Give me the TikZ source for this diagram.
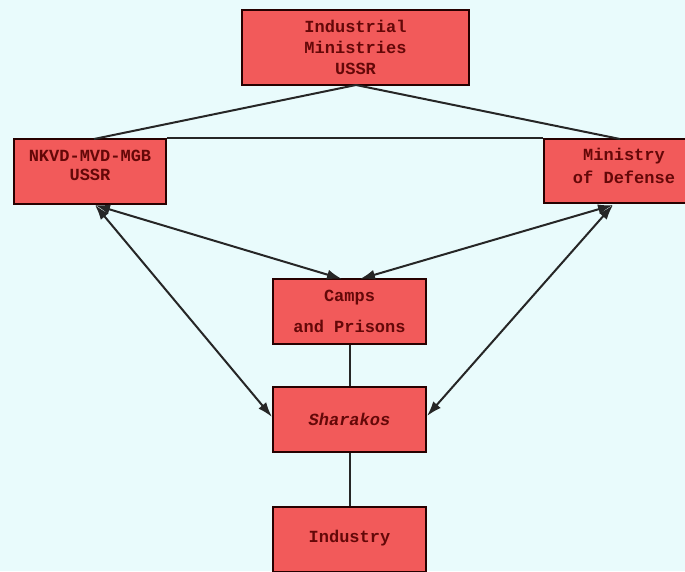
\documentclass[tikz,border=0pt]{standalone}
\usepackage{fontspec}
\setmonofont{Liberation Mono}
\usetikzlibrary{arrows.meta}
\definecolor{bgc}{RGB}{233,251,252}
\definecolor{boxc}{RGB}{242,90,90}
\definecolor{txtc}{RGB}{100,8,8}
\begin{document}
\begin{tikzpicture}[x=1pt,y=-1pt,
  box/.style={draw=black!85!red, line width=1.5pt, fill=boxc, rectangle, inner sep=0pt,
    text=txtc, align=center, font=\fontsize{17}{21}\selectfont\ttfamily\bfseries},
  link/.style={line width=2pt, draw=black!85},
  dbl/.style={line width=2pt, draw=black!85, {Latex[length=15pt,width=10pt]}-{Latex[length=15pt,width=10pt]}}]
\clip (0,0) rectangle (685,571);
\useasboundingbox (0,0) rectangle (685,571);
\fill[bgc] (0,0) rectangle (685,571);
% boxes
\node[box, minimum width=227pt, minimum height=75pt] (top) at (355.5,47.5) {Industrial\\Ministries\\USSR};
\node[box, minimum width=152pt, minimum height=65pt] (nkvd) at (90,171.5) {NKVD-MVD-MGB\\[-2pt]USSR\\[-8pt]};
\node[box, minimum width=160pt, minimum height=64pt] (mod) at (624,171) {Ministry\\[2pt]of Defense\\[-10pt]};
\node[box, minimum width=153pt, minimum height=65pt] (camps) at (349.5,311.5) {Camps\\[10pt]and Prisons};
\node[box, minimum width=153pt, minimum height=65pt] (shar) at (349.5,419.5) {\itshape Sharakos};
\node[box, minimum width=153pt, minimum height=65pt] (ind) at (349.5,539.5) {Industry\\[-14pt]};
% anchor points
\coordinate (tb) at (356,85);
\coordinate (nt) at (94,139);
\coordinate (mt) at (620,139);
\coordinate (nb) at (95,205);
\coordinate (mb) at (613,205);
\coordinate (cl) at (342,279);
\coordinate (cr) at (360,279);
\coordinate (sl) at (272,417);
\coordinate (sr) at (427,416);
% connectors
\draw[link] (tb) -- (nt);
\draw[link] (tb) -- (mt);
\draw[link] (nkvd.north east) -- (mod.north west);
\draw[link] (camps.south) -- (shar.north);
\draw[link] (shar.south) -- (ind.north);
\draw[dbl] (nb) -- (cl);
\draw[dbl] (mb) -- (cr);
\draw[dbl] (nb) -- (sl);
\draw[dbl] (mb) -- (sr);
\end{tikzpicture}
\end{document}
